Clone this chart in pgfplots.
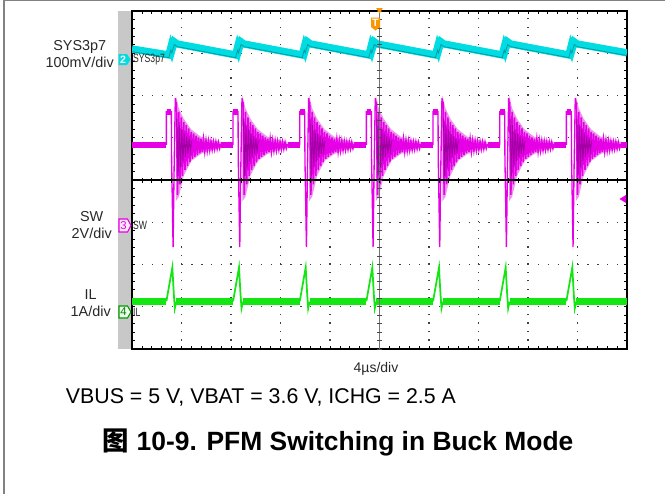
\documentclass[border=0pt]{standalone}
\usepackage{fontspec}
\setmainfont{Liberation Sans}
\newfontfamily\cjk{Noto Sans CJK SC}
\usepackage{pgfplots}
\usepackage{pgfplotstable}
\pgfplotsset{compat=1.18}

\definecolor{scopecyan}{RGB}{0,220,225}
\definecolor{darkteal}{RGB}{0,130,140}
\definecolor{scopemag}{RGB}{230,0,230}
\definecolor{darkmag}{RGB}{140,0,140}
\definecolor{lightmag}{RGB}{238,150,238}
\definecolor{scopegreen}{RGB}{20,230,20}
\definecolor{trigorange}{RGB}{250,150,0}
\definecolor{barGray}{RGB}{200,200,200}
\definecolor{frameGray}{RGB}{130,130,130}
\definecolor{txt}{RGB}{40,40,40}

% SW edge of one burst, t relative to burst start (div)
\pgfplotstableread{
t v
0.000 4.83
0.000 5.62
0.100 5.62
0.105 4.50
0.135 2.41
0.155 4.20
0.180 5.94
0.195 5.80
}\swedge

% SW ringing after the edge
\pgfplotstableread{
t v
0.200 5.85
0.225 3.65
0.250 5.61
0.275 3.90
0.300 5.48
0.325 4.10
0.350 5.37
0.375 4.24
0.400 5.30
0.425 4.33
0.450 5.22
0.475 4.42
0.500 5.14
0.525 4.50
0.550 5.10
0.575 4.55
0.600 5.05
0.625 4.59
0.650 5.01
0.675 4.63
0.700 4.98
0.725 4.66
0.750 4.96
0.775 4.68
0.800 4.93
0.825 4.70
0.850 4.92
0.875 4.71
0.900 4.91
0.925 4.72
0.950 4.90
0.975 4.73
1.000 4.90
1.025 4.74
1.050 4.89
1.075 4.75
1.100 4.85
}\swring

% dark core of the ringing
\pgfplotstableread{
t v
0.210 5.45
0.235 4.10
0.260 5.30
0.285 4.30
0.310 5.20
0.335 4.45
0.360 5.10
0.385 4.55
0.410 5.03
0.435 4.62
0.460 4.98
0.485 4.68
0.510 4.93
}\swcore

% persistence glow around the ringing
\pgfplotstableread{
t v
0.190 6.00
0.250 5.70
0.350 5.45
0.500 5.20
0.700 5.02
0.900 4.95
1.100 4.90
1.100 4.76
0.900 4.70
0.700 4.62
0.500 4.45
0.350 4.10
0.250 3.60
0.190 3.50
}\swglow

% IL pulse
\pgfplotstableread{
t v
0.000 1.13
0.120 1.93
0.150 1.30
0.170 0.96
0.200 1.12
}\ilpulse

\begin{document}
\begin{tikzpicture}
\begin{scope}[x=0.75pt,y=-0.75pt]
  \useasboundingbox (0,0) rectangle (665,494);
  \draw[frameGray, line width=1.2pt] (4,494) -- (4,0.6) -- (665,0.6);
  \fill[barGray] (118,11) rectangle (132,349);
  \coordinate (ax) at (132,349);
\end{scope}

\begin{axis}[
  at={(ax)}, anchor=south west,
  width=371.25pt, height=253.5pt, scale only axis,
  xmin=0, xmax=10, ymin=0, ymax=8,
  xtick={0,...,10}, ytick={0,...,8},
  xticklabels={}, yticklabels={},
  minor x tick num=4, minor y tick num=4,
  tick align=inside,
  major tick length=2.2pt, minor tick length=2.2pt,
  tick style={black, line width=0.6pt},
  xmajorgrids, ymajorgrids,
  x grid style={black!75, line width=0.9pt, dash pattern=on 0.9pt off 5.4375pt},
  y grid style={black!75, line width=0.9pt, dash pattern=on 0.9pt off 6.525pt},
  axis line style={black, line width=1.1pt},
  unbounded coords=jump,
  clip=true,
]
% SYS3p7 (cyan)
\addplot[scopecyan, line width=5.5pt] coordinates {
(0,7.10)
(0.745,6.96)(0.785,7.14)(0.805,7.07)(0.855,7.27)(0.915,7.22)
(2.092,6.96)(2.132,7.14)(2.152,7.07)(2.202,7.27)(2.262,7.22)
(3.439,6.96)(3.479,7.14)(3.499,7.07)(3.549,7.27)(3.609,7.22)
(4.785,6.96)(4.825,7.14)(4.845,7.07)(4.895,7.27)(4.955,7.22)
(6.132,6.96)(6.172,7.14)(6.192,7.07)(6.242,7.27)(6.302,7.22)
(7.479,6.96)(7.519,7.14)(7.539,7.07)(7.589,7.27)(7.649,7.22)
(8.825,6.96)(8.865,7.14)(8.885,7.07)(8.935,7.27)(8.995,7.22)
(10,7.01)
};
\addplot[darkteal, line width=0.6pt, opacity=0.7, yshift=-2pt] coordinates {
(0,7.10)
(0.745,6.96)(0.785,7.14)(0.805,7.07)(0.855,7.27)(0.915,7.22)
(2.092,6.96)(2.132,7.14)(2.152,7.07)(2.202,7.27)(2.262,7.22)
(3.439,6.96)(3.479,7.14)(3.499,7.07)(3.549,7.27)(3.609,7.22)
(4.785,6.96)(4.825,7.14)(4.845,7.07)(4.895,7.27)(4.955,7.22)
(6.132,6.96)(6.172,7.14)(6.192,7.07)(6.242,7.27)(6.302,7.22)
(7.479,6.96)(7.519,7.14)(7.539,7.07)(7.589,7.27)(7.649,7.22)
(8.825,6.96)(8.865,7.14)(8.885,7.07)(8.935,7.27)(8.995,7.22)
(10,7.01)
};

% SW (magenta): idle band and plateaus
\addplot[scopemag, line width=4.6pt, line cap=butt] coordinates {
(0,4.83)(0.695,4.83)(0.70,nan)(0.700,5.60)(0.795,5.60)(0.80,nan)
(1.795,4.83)(2.042,4.83)(2.045,nan)(2.047,5.60)(2.142,5.60)(2.145,nan)
(3.142,4.83)(3.389,4.83)(3.39,nan)(3.394,5.60)(3.489,5.60)(3.49,nan)
(4.489,4.83)(4.735,4.83)(4.74,nan)(4.740,5.60)(4.835,5.60)(4.84,nan)
(5.835,4.83)(6.082,4.83)(6.085,nan)(6.087,5.60)(6.182,5.60)(6.185,nan)
(7.182,4.83)(7.429,4.83)(7.43,nan)(7.434,5.60)(7.529,5.60)(7.53,nan)
(8.529,4.83)(8.775,4.83)(8.78,nan)(8.780,5.60)(8.875,5.60)(8.88,nan)
(9.875,4.83)(10,4.83)
};
\pgfplotsinvokeforeach{0.695,2.042,3.389,4.735,6.082,7.429,8.775}{
  \addplot[fill=lightmag, draw=none] table[x expr=\thisrow{t}+#1, y=v] {\swglow};
  \addplot[scopemag, line width=1pt] table[x expr=\thisrow{t}+#1, y=v] {\swedge};
  \addplot[scopemag, line width=1.2pt] table[x expr=\thisrow{t}+#1, y=v] {\swring};
  \addplot[darkmag, line width=0.7pt, opacity=0.75] table[x expr=\thisrow{t}+#1, y=v] {\swcore};
  \addplot[scopegreen, line width=1.3pt] table[x expr=\thisrow{t}+#1, y=v] {\ilpulse};
}

% IL (green) band
\addplot[scopegreen, line width=5pt, line cap=butt] coordinates {
(0,1.13)(0.695,1.13)(0.70,nan)
(0.895,1.13)(2.042,1.13)(2.045,nan)
(2.242,1.13)(3.389,1.13)(3.39,nan)
(3.589,1.13)(4.735,1.13)(4.74,nan)
(4.935,1.13)(6.082,1.13)(6.085,nan)
(6.282,1.13)(7.429,1.13)(7.43,nan)
(7.629,1.13)(8.775,1.13)(8.78,nan)
(8.975,1.13)(10,1.13)
};
\end{axis}

\begin{scope}[x=0.75pt,y=-0.75pt]
  % center graticule lines
  \draw[black, line width=1pt] (132,180) -- (627,180);
  \draw[black!55, line width=1.2pt] (379.5,11) -- (379.5,349);
  \foreach \i in {0,...,50} \draw[black, line width=0.6pt] ({132+9.9*\i},177.5) -- ++(0,5);
  \foreach \j in {0,...,40} \draw[black!70, line width=0.6pt] (377,{11+8.45*\j}) -- ++(5,0);

  % channel markers
  \fill[scopecyan] (118.5,54) -- (127,54) -- (130.5,59.5) -- (127,65) -- (118.5,65) -- cycle;
  \node[white, font=\bfseries\fontsize{8}{8}\selectfont, inner sep=0] at (123,59.5) {2};
  \draw[scopemag, fill=scopemag!8, line width=0.8pt] (119,219) -- (127.5,219) -- (131,225.5) -- (127.5,232) -- (119,232) -- cycle;
  \node[scopemag, font=\fontsize{8.5}{8.5}\selectfont, inner sep=0] at (123.5,225.5) {3};
  \draw[green!60!black, fill=scopegreen!8, line width=0.8pt] (119,306) -- (127.5,306) -- (131,312) -- (127.5,318) -- (119,318) -- cycle;
  \node[green!50!black, font=\fontsize{8.5}{8.5}\selectfont, inner sep=0] at (123.5,312) {4};

  \node[anchor=west, inner sep=0, xscale=0.72, txt, font=\fontsize{9}{9}\selectfont] at (133,59.5) {SYS3p7};
  \node[anchor=west, inner sep=0, xscale=0.72, txt, font=\fontsize{9}{9}\selectfont] at (133,225) {SW};
  \node[anchor=west, inner sep=0, xscale=0.72, txt, font=\fontsize{9}{9}\selectfont] at (133,312) {IL};

  % trigger markers
  \fill[trigorange] (376.2,8) -- (382.8,8) -- (379.5,13.5) -- cycle;
  \fill[trigorange] (371,17.5) -- (380,17.5) -- (380,27) -- (375.5,30.5) -- (371,27) -- cycle;
  \node[white, font=\bfseries\fontsize{8}{8}\selectfont, inner sep=0] at (375.5,23) {T};
  \fill[scopemag] (619.5,199) -- (626,195) -- (626,203) -- cycle;

  % channel labels
  \node[anchor=east, align=center, inner sep=0, txt, font=\fontsize{10.8}{12.75}\selectfont] at (114,54.5) {SYS3p7\\100mV/div};
  \node[anchor=east, align=center, inner sep=0, txt, font=\fontsize{10.8}{12.75}\selectfont] at (112,225) {SW\\2V/div};
  \node[anchor=east, align=center, inner sep=0, txt, font=\fontsize{10.8}{12.75}\selectfont] at (111,303.5) {IL\\1A/div};

  \node[txt, inner sep=0, font=\fontsize{10.5}{12}\selectfont] at (376,369) {4µs/div};
  \node[anchor=base west, inner sep=0, font=\fontsize{16}{19}\selectfont] at (65.7,403) {VBUS = 5 V, VBAT = 3.6 V, ICHG = 2.5 A};
  \node[anchor=base west, inner sep=0, font=\bfseries\fontsize{19.8}{24}\selectfont] at (102.7,450.7) {{\cjk 图} 10-9. PFM Switching in Buck Mode};
\end{scope}
\end{tikzpicture}
\end{document}
